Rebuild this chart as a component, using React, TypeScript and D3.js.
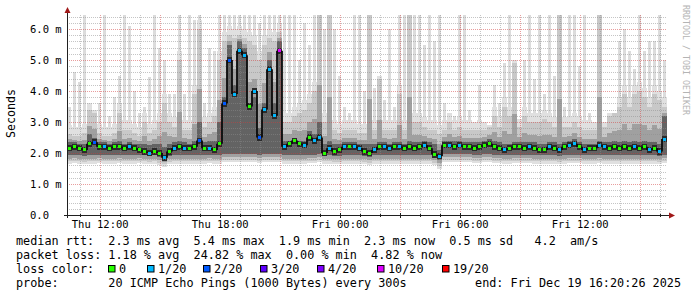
import React from 'react';
import * as d3 from 'd3';

// ---- data (ms), one value per 15-minute column, Thu 10:20 -> Fri 16:20 ----
const medianMs = [
  2.15, 2.2, 2.15, 2.1, 2.3, 2.35, 2.2, 2.2, 2.15, 2.2,
  2.2, 2.15, 2.2, 2.15, 2.1, 2.05, 2.0, 2.05, 2.0, 1.85,
  2.05, 2.15, 2.2, 2.15, 2.15, 2.2, 2.4, 2.15, 2.15, 2.1,
  2.3, 3.6, 5.0, 3.9, 5.3, 5.15, 3.5, 4.0, 2.5, 3.4,
  4.7, 3.2, 5.3, 2.2, 2.3, 2.4, 2.3, 2.25, 2.5, 2.4,
  2.5, 2.0, 2.15, 2.05, 2.1, 2.2, 2.2, 2.2, 2.15, 2.05,
  2.0, 2.1, 2.2, 2.2, 2.15, 2.2, 2.2, 2.15, 2.2, 2.15,
  2.2, 2.25, 2.15, 1.95, 1.9, 2.25, 2.25, 2.2, 2.25, 2.2,
  2.2, 2.15, 2.2, 2.25, 2.3, 2.2, 2.15, 2.1, 2.15, 2.2,
  2.2, 2.15, 2.2, 2.15, 2.1, 2.1, 2.2, 2.15, 2.1, 2.2,
  2.25, 2.3, 2.2, 2.1, 2.15, 2.15, 2.25, 2.2, 2.15, 2.2,
  2.15, 2.2, 2.15, 2.2, 2.15, 2.2, 2.1, 2.15, 2.05, 2.45,
];
const lossCount = [
  0, 0, 0, 0, 0, 2, 0, 1, 0, 0,
  0, 0, 1, 0, 0, 0, 1, 0, 0, 1,
  0, 1, 0, 1, 0, 0, 2, 0, 1, 0,
  0, 2, 2, 1, 1, 1, 0, 1, 2, 1,
  1, 1, 10, 1, 0, 0, 0, 1, 0, 1,
  1, 0, 1, 0, 0, 1, 0, 1, 1, 0,
  0, 1, 0, 1, 1, 0, 1, 0, 0, 0,
  0, 1, 0, 0, 1, 0, 1, 0, 1, 0,
  0, 0, 0, 0, 0, 0, 0, 1, 0, 0,
  0, 0, 1, 0, 0, 0, 1, 0, 1, 0,
  1, 1, 0, 1, 0, 0, 1, 1, 0, 0,
  0, 0, 0, 1, 0, 0, 1, 0, 1, 1,
];
const smokeLow = [
  1.65, 1.67, 1.65, 1.63, 1.65, 1.65, 1.67, 1.65, 1.65, 1.65,
  1.67, 1.65, 1.65, 1.65, 1.67, 1.65, 1.63, 1.65, 1.6, 1.55,
  1.63, 1.65, 1.65, 1.65, 1.65, 1.65, 1.65, 1.65, 1.67, 1.65,
  1.65, 1.7, 1.7, 1.7, 1.7, 1.7, 1.7, 1.7, 1.67, 1.7,
  1.7, 1.7, 1.7, 1.65, 1.65, 1.65, 1.65, 1.65, 1.67, 1.67,
  1.7, 1.65, 1.65, 1.63, 1.63, 1.65, 1.65, 1.65, 1.65, 1.63,
  1.6, 1.65, 1.65, 1.65, 1.65, 1.65, 1.65, 1.65, 1.65, 1.65,
  1.65, 1.65, 1.65, 1.6, 1.5, 1.7, 1.7, 1.7, 1.7, 1.7,
  1.7, 1.67, 1.67, 1.7, 1.7, 1.67, 1.67, 1.65, 1.65, 1.67,
  1.67, 1.67, 1.67, 1.65, 1.65, 1.65, 1.65, 1.65, 1.63, 1.65,
  1.67, 1.67, 1.67, 1.65, 1.65, 1.65, 1.67, 1.65, 1.65, 1.65,
  1.65, 1.65, 1.65, 1.65, 1.65, 1.65, 1.65, 1.65, 1.63, 1.67,
];
const smokeQ75 = [
  2.35, 2.35, 2.3, 2.3, 2.6, 2.5, 2.35, 2.35, 2.3, 2.35,
  2.4, 2.3, 2.35, 2.3, 2.3, 2.3, 2.25, 2.3, 2.3, 2.2,
  2.3, 2.35, 2.4, 2.35, 2.3, 2.4, 3.0, 2.35, 2.4, 2.4,
  3.0, 3.8, 5.5, 4.2, 5.6, 5.4, 3.6, 3.8, 2.8, 3.6,
  5.0, 3.6, 5.6, 2.4, 2.4, 2.5, 2.4, 2.4, 2.7, 2.6,
  3.0, 2.3, 2.4, 2.3, 2.3, 2.35, 2.35, 2.35, 2.3, 2.3,
  2.3, 2.3, 2.35, 2.35, 2.3, 2.35, 2.35, 2.3, 2.4, 2.35,
  2.35, 2.4, 2.35, 2.3, 2.1, 2.4, 2.4, 2.4, 2.4, 2.35,
  2.35, 2.35, 2.35, 2.4, 2.45, 2.4, 2.35, 2.3, 2.3, 2.35,
  2.35, 2.35, 2.35, 2.35, 2.3, 2.3, 2.35, 2.35, 2.3, 2.35,
  2.4, 2.45, 2.35, 2.3, 2.3, 2.3, 2.4, 2.35, 2.35, 2.4,
  2.35, 2.4, 2.35, 2.4, 2.35, 2.4, 2.35, 2.35, 2.3, 3.2,
];
const smokeQ90 = [
  2.6, 2.55, 2.55, 2.65, 3.4, 3.3, 2.65, 2.55, 2.55, 2.65,
  3.3, 2.75, 2.75, 2.65, 2.55, 3.0, 2.65, 2.75, 3.0, 3.6,
  3.0, 2.85, 5.0, 2.75, 2.75, 3.9, 6.0, 2.85, 3.0, 3.2,
  5.0, 5.6, 5.8, 5.7, 5.8, 5.7, 5.6, 5.5, 5.0, 5.5,
  5.7, 5.6, 5.9, 3.0, 3.0, 3.2, 3.3, 3.4, 3.6, 4.0,
  6.45, 3.0, 6.45, 2.75, 2.65, 2.75, 2.75, 2.75, 2.65, 2.65,
  6.45, 2.75, 4.4, 2.75, 2.75, 2.75, 3.9, 2.75, 6.45, 3.0,
  3.0, 2.85, 2.75, 2.75, 2.6, 2.75, 3.0, 2.75, 2.85, 2.75,
  2.75, 2.75, 2.75, 2.75, 2.85, 3.2, 2.85, 3.5, 3.2, 4.9,
  2.85, 3.2, 3.0, 3.0, 3.0, 3.1, 3.0, 2.85, 6.45, 2.85,
  2.85, 3.0, 2.85, 2.75, 2.75, 2.75, 6.45, 2.85, 3.2, 3.3,
  3.5, 3.9, 3.5, 3.9, 4.0, 3.8, 3.5, 3.9, 3.7, 3.5,
];
const smokeHigh = [
  3.5, 4.6, 4.3, 6.45, 3.6, 3.4, 3.6, 6.45, 3.2, 3.8,
  4.5, 6.45, 6.1, 4.0, 3.3, 3.5, 4.45, 6.45, 5.4, 5.0,
  3.9, 3.9, 6.45, 3.9, 6.45, 6.3, 6.45, 3.6, 5.4, 5.3,
  6.45, 6.45, 6.45, 6.45, 6.45, 6.45, 6.45, 6.45, 6.2, 6.45,
  6.45, 6.45, 6.45, 6.45, 6.45, 6.45, 5.0, 6.2, 5.5, 6.45,
  6.45, 6.0, 6.45, 6.0, 4.5, 3.5, 3.3, 6.45, 6.45, 4.0,
  6.45, 4.1, 4.5, 3.7, 6.0, 3.5, 6.45, 6.45, 6.45, 6.45,
  6.45, 5.5, 6.45, 5.6, 6.45, 3.6, 3.3, 3.2, 6.45, 6.45,
  3.4, 3.0, 4.2, 3.0, 2.9, 4.2, 3.6, 4.9, 6.45, 5.0,
  3.1, 5.0, 6.45, 4.4, 6.45, 3.9, 6.45, 4.5, 6.45, 3.5,
  6.45, 6.45, 4.8, 6.45, 3.3, 3.0, 6.45, 3.0, 3.3, 3.3,
  5.6, 6.0, 5.3, 4.7, 6.45, 5.3, 5.6, 5.6, 6.45, 5.0,
];

const yMajorTicks = [0, 1, 2, 3, 4, 5, 6];
const yTickLabels = ['0.0', '1.0 m', '2.0 m', '3.0 m', '4.0 m', '5.0 m', '6.0 m'];
const lossLabels = ['0', '1/20', '2/20', '3/20', '4/20', '10/20', '19/20'];
const lossColors = ['#26ff00', '#00b8ff', '#0059ff', '#5e00ff', '#7e00ff', '#dd00ff', '#ff0000'];
const lossThresholds = [0, 1, 2, 3, 4, 10, 19];
const legendLine1 = 'median rtt:  2.3 ms avg  5.4 ms max  1.9 ms min  2.3 ms now  0.5 ms sd   4.2  am/s';
const legendLine2 = 'packet loss: 1.18 % avg  24.82 % max  0.00 % min  4.82 % now';
const legendLine3 = 'loss color:';
const legendLine4 = 'probe:       20 ICMP Echo Pings (1000 Bytes) every 300s';
const endText = 'end: Fri Dec 19 16:20:26 2025';
const yTitle = 'Seconds';
const watermark = 'RRDTOOL / TOBI OETIKER';

const START = Date.UTC(2025, 11, 18, 10, 20, 26);
const END = Date.UTC(2025, 11, 19, 16, 20, 26);
const STEP_MS = 15 * 60 * 1000;

// layout
const LOSS_ITEM_X = [108, 147, 203, 260, 317, 377, 442];
const MONO = "'DejaVu Sans Mono', monospace";

function lossColor(n: number) {
  let c = lossColors[0];
  lossThresholds.forEach((t, k) => {
    if (n >= t) c = lossColors[k];
  });
  return c;
}

export default function App() {
  const left = 67, right = 667, top = 15, bottom = 215;
  const x = d3.scaleTime().domain([new Date(START), new Date(END)]).range([left, right]);
  const y = d3.scaleLinear().domain([0, 200 / 31]).range([bottom, top]).clamp(true);

  const cols = medianMs.map((m, i) => {
    const x0 = x(new Date(START + i * STEP_MS));
    const x1 = x(new Date(START + (i + 1) * STEP_MS));
    return {
      i, x0, x1, med: m, loss: lossCount[i], lo: smokeLow[i],
      q75: smokeQ75[i], q90: smokeQ90[i], hi: smokeHigh[i],
    };
  });

  const hours = d3.utcHour.range(new Date(START), new Date(END));
  const minorY = d3.range(1, 33).map(k => k * 0.2).filter(v => Math.abs(v - Math.round(v)) > 1e-6);
  const fmt = d3.utcFormat('%a %H:%M');

  const rect = (key: string, x0: number, x1: number, v0: number, v1: number, fill: string) => {
    const ya = y(v1), yb = y(v0);
    if (yb - ya <= 0) return null;
    return <rect key={key} x={x0} y={ya} width={x1 - x0} height={yb - ya} fill={fill} shapeRendering="crispEdges" />;
  };

  const smoke: any[] = [];
  cols.forEach(c => {
    const env = Math.min(c.hi, c.q90 + 0.3);
    const mid = (c.x0 + c.x1) / 2;
    smoke.push(rect('a' + c.i, c.x0, c.x1, c.lo, env, '#e0e0e0'));
    if (c.hi > env) {
      smoke.push(rect('b' + c.i, mid - 1.5, mid + 1.5, env - 0.01, c.hi, '#dcdcdc'));
    }
    smoke.push(rect('c' + c.i, c.x0, c.x1, c.lo + 0.08, c.q90, '#c8c8c8'));
    smoke.push(rect('d' + c.i, c.x0, c.x1, c.lo + 0.17, c.q75 + 0.35 * (c.q90 - c.q75), '#a0a0a0'));
    smoke.push(rect('e' + c.i, c.x0, c.x1, c.lo + 0.28, c.q75, '#636363'));
    smoke.push(rect('f' + c.i, c.x0, c.x1, c.med - 0.1, c.med + 0.1, '#2a2a2a'));
  });

  const stepPath = cols.slice(0, -1).map(c => {
    const n = cols[c.i + 1];
    return `M${c.x1},${y(c.med)}V${y(n.med)}`;
  }).join('');

  return (
    <svg width={697} height={297} style={{ position: 'absolute', left: 0, top: 0, background: '#fff' }}
      xmlns="http://www.w3.org/2000/svg">
      <rect x={0} y={0} width={697} height={297} fill="#ffffff" />
      {smoke}
      {/* grid */}
      {minorY.map(v => {
        const yy = Math.round(y(v)) + 0.5;
        return <line key={'my' + v} x1={left} x2={right} y1={yy} y2={yy} stroke="rgba(140,140,140,0.5)" strokeDasharray="1,1" />;
      })}
      {hours.filter(h => h.getUTCHours() % 3 !== 0).map(h => {
        const xx = Math.round(x(h)) + 0.5;
        return <line key={'mx' + +h} x1={xx} x2={xx} y1={top} y2={bottom} stroke="rgba(140,140,140,0.5)" strokeDasharray="1,1" />;
      })}
      {yMajorTicks.filter(v => v > 0).map(v => {
        const yy = Math.round(y(v)) + 0.5;
        return <line key={'My' + v} x1={left} x2={right} y1={yy} y2={yy} stroke="rgba(210,60,60,0.5)" strokeDasharray="1,1" />;
      })}
      {hours.filter(h => h.getUTCHours() % 3 === 0).map(h => {
        const xx = Math.round(x(h)) + 0.5;
        return <line key={'Mx' + +h} x1={xx} x2={xx} y1={top} y2={bottom} stroke="rgba(210,60,60,0.5)" strokeDasharray="1,1" />;
      })}
      {/* median */}
      <path d={stepPath} stroke="#0a0a0a" strokeWidth={1.8} fill="none" />
      {cols.map(c => (
        <rect key={'m' + c.i} x={c.x0 + 0.5} y={y(c.med) - 1.5} width={c.x1 - c.x0 - 1.5} height={3}
          fill={lossColor(c.loss)} shapeRendering="crispEdges" />
      ))}
      {/* axes */}
      <line x1={left - 3} x2={671} y1={bottom + 0.5} y2={bottom + 0.5} stroke="#202020" />
      <line x1={left + 0.5} x2={left + 0.5} y1={bottom + 3} y2={11} stroke="#202020" />
      {hours.map(h => {
        const xx = Math.round(x(h)) + 0.5;
        const major = h.getUTCHours() % 3 === 0;
        return <line key={'tx' + +h} x1={xx} x2={xx} y1={bottom - (major ? 2 : 1)} y2={bottom + (major ? 3 : 2)} stroke="#202020" />;
      })}
      <path d={`M${left + 0.5},7 L${left - 2.5},13 L${left + 3.5},13 Z`} fill="#a01818" />
      <path d={`M675,${bottom + 0.5} L669,${bottom - 2.5} L669,${bottom + 3.5} Z`} fill="#a01818" />
      {/* y labels */}
      {yMajorTicks.map((v, k) => (
        <text key={'yl' + v} x={30} y={Math.round(y(v)) + 4} fontFamily={MONO} fontSize={10.5} fill="#000"
          style={{ whiteSpace: 'pre' }}>{yTickLabels[k]}</text>
      ))}
      {/* x labels */}
      {hours.filter(h => h.getUTCHours() % 6 === 0).map(h => (
        <text key={'xl' + +h} x={x(h)} y={228} textAnchor="middle" fontFamily={MONO} fontSize={10.5} fill="#000">
          {fmt(h)}
        </text>
      ))}
      <text transform="translate(15,113.5) rotate(-90)" textAnchor="middle" fontFamily={MONO} fontSize={11.6} fill="#000">{yTitle}</text>
      <text transform="translate(683,5) rotate(90)" fontFamily={MONO} fontSize={8.3} fill="#b4b4b4">{watermark}</text>
      {/* legend */}
      <text x={16} y={245} fontFamily={MONO} fontSize={11.8} fill="#000" style={{ whiteSpace: 'pre' }}>{legendLine1}</text>
      <text x={16} y={259} fontFamily={MONO} fontSize={11.8} fill="#000" style={{ whiteSpace: 'pre' }}>{legendLine2}</text>
      <text x={16} y={273} fontFamily={MONO} fontSize={11.8} fill="#000" style={{ whiteSpace: 'pre' }}>{legendLine3}</text>
      {lossLabels.map((l, k) => (
        <g key={'lg' + k}>
          <rect x={LOSS_ITEM_X[k] + 0.5} y={265.5} width={6.5} height={6.5} fill={lossColors[k]} stroke="#000" strokeWidth={1} />
          <text x={LOSS_ITEM_X[k] + 11} y={273} fontFamily={MONO} fontSize={11.8} fill="#000">{l}</text>
        </g>
      ))}
      <text x={16} y={287} fontFamily={MONO} fontSize={11.8} fill="#000" style={{ whiteSpace: 'pre' }}>{legendLine4}</text>
      <text x={681} y={287} textAnchor="end" fontFamily={MONO} fontSize={11.8} fill="#000" style={{ whiteSpace: 'pre' }}>{endText}</text>
    </svg>
  );
}
